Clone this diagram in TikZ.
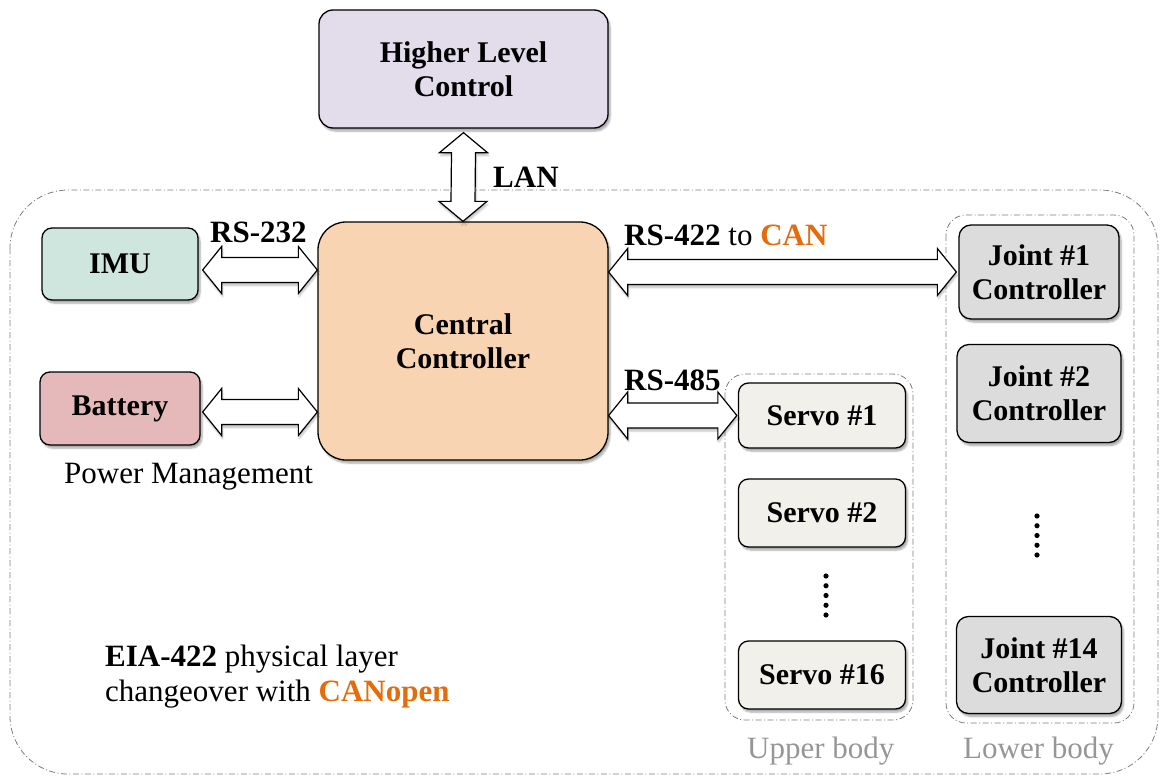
\documentclass[tikz,border=0pt]{standalone}
\usepackage{fontspec}
\setmainfont{Liberation Serif}
\usetikzlibrary{calc,shadows.blur}
\definecolor{hlcfill}{RGB}{227,221,235}
\definecolor{imufill}{RGB}{207,230,222}
\definecolor{batfill}{RGB}{229,185,185}
\definecolor{ccfill}{RGB}{249,212,179}
\definecolor{jointfill}{RGB}{220,220,220}
\definecolor{servofill}{RGB}{242,240,234}
\definecolor{canorange}{RGB}{228,108,10}
\definecolor{grplabel}{RGB}{150,150,150}
\definecolor{grpline}{RGB}{125,125,125}
\newcommand\hdarrow[2]{%
  \draw[darrow] (#1) -- ($(#1)+(19pt,23.5pt)$) -- ($(#1)+(19pt,12.5pt)$)
    -- ($(#2)+(-19pt,12.5pt)$) -- ($(#2)+(-19pt,23.5pt)$) -- (#2)
    -- ($(#2)+(-19pt,-23.5pt)$) -- ($(#2)+(-19pt,-12.5pt)$)
    -- ($(#1)+(19pt,-12.5pt)$) -- ($(#1)+(19pt,-23.5pt)$) -- cycle;}
\newcommand\vdarrow[2]{%
  \draw[darrow] (#1) -- ($(#1)+(24pt,-20pt)$) -- ($(#1)+(12pt,-20pt)$)
    -- ($(#2)+(12pt,20pt)$) -- ($(#2)+(24pt,20pt)$) -- (#2)
    -- ($(#2)+(-24pt,20pt)$) -- ($(#2)+(-12pt,20pt)$)
    -- ($(#1)+(-12pt,-20pt)$) -- ($(#1)+(-24pt,-20pt)$) -- cycle;}
\begin{document}
\begin{tikzpicture}[x=1pt,y=-1pt,
  box/.style={draw=black, line width=1.3pt, rounded corners=12pt, align=center,
    font=\fontsize{30}{34}\selectfont\bfseries, inner sep=0pt,
    blur shadow={shadow xshift=2pt, shadow yshift=-3pt, shadow blur steps=6, shadow opacity=35}},
  grp/.style={draw=grpline, line width=0.8pt, dash pattern=on 6pt off 2.5pt on 1pt off 2.5pt},
  lbl/.style={font=\fontsize{31}{36}\selectfont\bfseries, inner sep=0pt, anchor=base west},
  txt/.style={font=\fontsize{31}{36}\selectfont, inner sep=0pt, anchor=base west},
  darrow/.style={draw=black, fill=white, line width=1.2pt, line join=miter,
    blur shadow={shadow xshift=1pt, shadow yshift=-3pt, shadow blur steps=5, shadow opacity=25}}]
\useasboundingbox (0,0) rectangle (1160,776);

% outer group
\draw[grp, rounded corners=58pt] (10,190) rectangle (1158,774);
% sub groups
\draw[grp, rounded corners=20pt] (725,374) rectangle (913,720);
\draw[grp, rounded corners=20pt] (946,215) rectangle (1134,723);

% nodes
\node[box, fill=hlcfill, minimum width=289pt, minimum height=118pt, rounded corners=14pt] (hlc) at (463.5,69) {Higher Level\\Control};
\node[box, fill=ccfill, minimum width=290pt, minimum height=238pt, rounded corners=28pt] (cc) at (463,341) {Central\\Controller};
\node[box, fill=imufill, minimum width=156pt, minimum height=72pt, rounded corners=10pt] (imu) at (120,264) {IMU};
\node[box, fill=batfill, minimum width=160pt, minimum height=73pt, rounded corners=10pt] (bat) at (120,408.5) {Battery};
\node[box, fill=jointfill, minimum width=160pt, minimum height=94pt] (j1) at (1039,272) {Joint \#1\\Controller};
\node[box, fill=jointfill, minimum width=164pt, minimum height=98pt] (j2) at (1039,393.5) {Joint \#2\\Controller};
\node[box, fill=jointfill, minimum width=165pt, minimum height=97pt] (j14) at (1039,665) {Joint \#14\\Controller};
\node[box, fill=servofill, minimum width=167pt, minimum height=65pt, rounded corners=10pt] (s1) at (822,415.5) {Servo \#1};
\node[box, fill=servofill, minimum width=167pt, minimum height=68pt, rounded corners=10pt] (s2) at (822,513) {Servo \#2};
\node[box, fill=servofill, minimum width=167pt, minimum height=68pt, rounded corners=10pt] (s16) at (822,675) {Servo \#16};

% dots
\foreach \k in {0,...,4} {
  \fill (826,{576+\k*9.75}) circle (2.6pt);
  \fill (1037,{516+\k*9.75}) circle (2.6pt);
}

% connector end points
\coordinate (imuA) at ([xshift=4pt,yshift=-6pt]imu.east);
\coordinate (imuB) at (cc.west |- imuA);
\coordinate (batA) at ([xshift=2pt,yshift=-3.5pt]bat.east);
\coordinate (batB) at (cc.west |- batA);
\coordinate (j1B) at ([xshift=-2pt]j1.west);
\coordinate (j1A) at (cc.east |- j1B);
\coordinate (s1B) at ([xshift=-1pt]s1.west);
\coordinate (s1A) at (cc.east |- s1B);
\coordinate (hlcA) at ([yshift=-4pt]hlc.south);

% connectors
\hdarrow{imuA}{imuB}
\hdarrow{batA}{batB}
\hdarrow{j1A}{j1B}
\hdarrow{s1A}{s1B}
\vdarrow{hlcA}{cc.north}

% labels
\node[lbl] (lan) at (493,187) {LAN};
\node[lbl] (rs232) at (210,242) {RS-232};
\node[txt] (rs422) at (624,245) {\textbf{RS-422} to \textbf{\color{canorange}CAN}};
\node[lbl] (rs485) at (624,390) {RS-485};
\node[txt] (pm) at (64,483) {Power Management};
\node[txt] (eia1) at (105,666) {\textbf{EIA-422} physical layer};
\node[txt] (eia2) at (105,701) {changeover with \textbf{\color{canorange}CANopen}};
\node[txt, text=grplabel] (ub) at (747,758) {Upper body};
\node[txt, text=grplabel] (lb) at (963,758) {Lower body};
\end{tikzpicture}
\end{document}
